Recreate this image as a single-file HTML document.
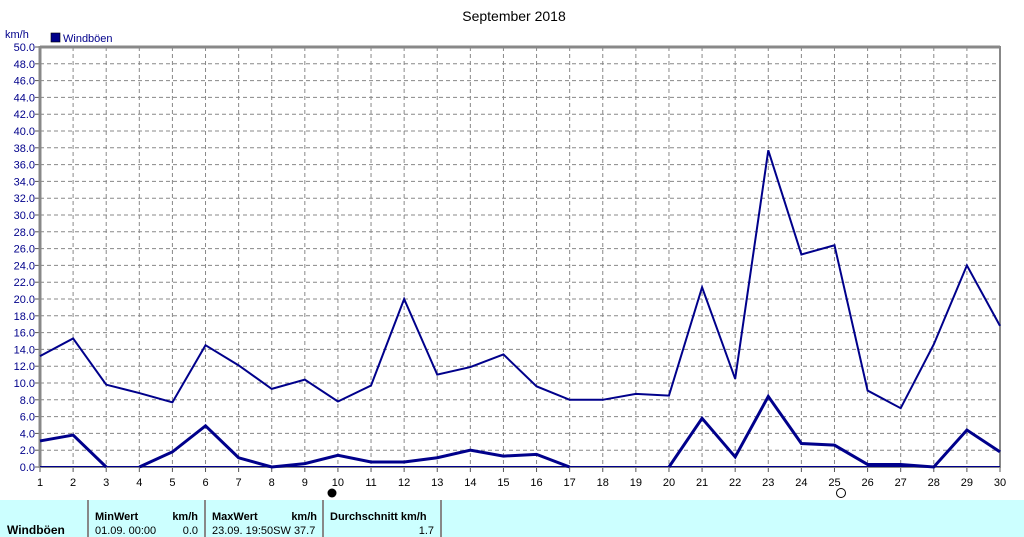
<!DOCTYPE html>
<html><head><meta charset="utf-8"><style>
body{margin:0;background:#fff;width:1024px;height:537px;overflow:hidden;font-family:"Liberation Sans",sans-serif}
svg{position:absolute;left:0;top:0}
</style></head><body>
<svg id="s" width="1024" height="537" xmlns="http://www.w3.org/2000/svg" font-family="Liberation Sans, sans-serif"></svg>
<script>
const s=document.getElementById('s');
const X=d=>40+(d-1)*960/29, Y=v=>467-v*8.4;
let h='';
h+='<text x="514" y="21" font-size="14" text-anchor="middle" fill="#000">September 2018</text>';
h+='<text x="5" y="38" font-size="11" fill="#00008b">km/h</text>';
h+='<rect x="51" y="33" width="9" height="9" fill="#00008b" stroke="#000" stroke-width="0.6"/>';
h+='<text x="63" y="42" font-size="11" fill="#00008b">Windböen</text>';
for(let v=0;v<=50;v+=2){const y=Y(v);
 if(v>0&&v<50)h+=`<line x1="40" x2="1000" y1="${y}" y2="${y}" stroke="#888" stroke-dasharray="4,3"/>`;
 h+=`<line x1="35" x2="40" y1="${y}" y2="${y}" stroke="#555"/>`;
 h+=`<text x="35" y="${y+4}" font-size="11" text-anchor="end" fill="#00008b">${v.toFixed(1)}</text>`;}
for(let d=1;d<=30;d++){const x=X(d);
 if(d>1&&d<30)h+=`<line x1="${x}" x2="${x}" y1="47" y2="467" stroke="#888" stroke-dasharray="4,3"/>`;
 h+=`<line x1="${x}" x2="${x}" y1="467" y2="472" stroke="#555"/>`;
 h+=`<text x="${x}" y="486" font-size="11" text-anchor="middle" fill="#000">${d}</text>`;}
h+='<line x1="40" x2="1000" y1="47" y2="47" stroke="#888" stroke-width="3"/>';
h+='<line x1="40" x2="40" y1="46" y2="468" stroke="#888" stroke-width="3"/>';
h+='<line x1="1000" x2="1000" y1="46" y2="468" stroke="#888" stroke-width="2"/>';
h+='<line x1="40" x2="1000" y1="467" y2="467" stroke="#888" stroke-width="2"/>';
h+='<line x1="40" x2="1000" y1="466.5" y2="466.5" stroke="#00008b" stroke-width="1"/>';
const up=[13.2,15.3,9.8,8.8,7.7,14.5,12.1,9.3,10.4,7.8,9.7,20,11,11.9,13.4,9.6,8,8,8.7,8.5,21.4,10.5,37.7,25.3,26.4,9.1,7,14.6,24,16.8];
h+=`<polyline fill="none" stroke="#00008b" stroke-width="2" points="${up.map((v,i)=>X(i+1)+','+Y(v)).join(' ')}"/>`;
const segs=[[[1,3.1],[2,3.8],[3,0]],[[4,0],[5,1.8],[6,4.9],[7,1.1],[8,0],[9,0.4],[10,1.4],[11,0.6],[12,0.6],[13,1.1],[14,2],[15,1.3],[16,1.5],[17,0]],[[20,0],[21,5.8],[22,1.2],[23,8.4],[24,2.8],[25,2.6],[26,0.3],[27,0.3],[28,0],[29,4.4],[30,1.8]]];
segs.forEach(sg=>h+=`<polyline fill="none" stroke="#00008b" stroke-width="3" points="${sg.map(p=>X(p[0])+','+Y(p[1])).join(' ')}"/>`);
h+='<circle cx="332" cy="493" r="4.5" fill="#000"/>';
h+='<circle cx="841" cy="493" r="4.5" fill="#fff" stroke="#000"/>';
h+='<rect x="0" y="500" width="1024" height="37" fill="#ccffff"/>';
[88,205,323,441].forEach(x=>h+=`<line x1="${x}" x2="${x}" y1="500" y2="537" stroke="#888" stroke-width="2"/>`);
h+='<text x="7" y="534" font-size="12" font-weight="bold">Windböen</text>';
h+='<text x="95" y="520" font-size="11" font-weight="bold">MinWert</text><text x="198" y="520" font-size="11" font-weight="bold" text-anchor="end">km/h</text>';
h+='<text x="95" y="534" font-size="11">01.09.  00:00</text><text x="198" y="534" font-size="11" text-anchor="end">0.0</text>';
h+='<text x="212" y="520" font-size="11" font-weight="bold">MaxWert</text><text x="317" y="520" font-size="11" font-weight="bold" text-anchor="end">km/h</text>';
h+='<text x="212" y="534" font-size="11">23.09.  19:50SW 37.7</text>';
h+='<text x="330" y="520" font-size="11" font-weight="bold">Durchschnitt km/h</text><text x="434" y="534" font-size="11" text-anchor="end">1.7</text>';
s.innerHTML=h;
</script>
</body></html>
